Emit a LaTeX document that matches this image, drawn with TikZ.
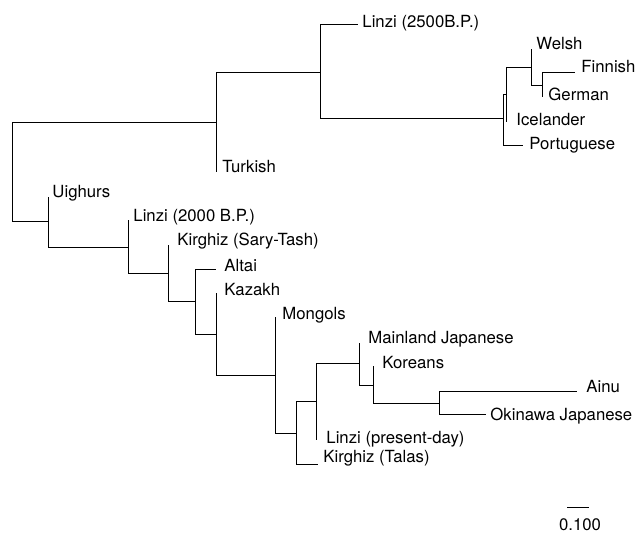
\documentclass[tikz,border=0pt]{standalone}
\usepackage{fontspec}
\setmainfont{TeX Gyre Heros}
\usepackage{tikz}

\begin{document}
\begin{tikzpicture}[x=1bp,y=-1bp,line width=0.9bp,font=\fontsize{16.8}{18}\selectfont,
  lbl/.style={anchor=base west,inner sep=0pt}]
\useasboundingbox (0,0) rectangle (639,533);
% internal nodes
\coordinate (r) at (12,171);
\coordinate (a) at (216,122);
\coordinate (b) at (320,72);
\coordinate (e) at (503,118);
\coordinate (f) at (506,94);
\coordinate (g) at (531,67);
\coordinate (h) at (542,85);
\coordinate (u) at (48,221);
\coordinate (c1) at (128,247);
\coordinate (c2) at (168,273);
\coordinate (c3) at (195,301);
\coordinate (c4) at (216,334);
\coordinate (c5) at (275,375);
\coordinate (c6) at (296,433);
\coordinate (c7) at (316,401);
\coordinate (c8) at (359,363);
\coordinate (c9) at (373,385);
\coordinate (c10) at (439,403);
% tips
\coordinate (tlinziA) at (358,24);
\coordinate (twelsh) at (531,49);
\coordinate (tfinnish) at (575,72);
\coordinate (tgerman) at (542,97);
\coordinate (ticeland) at (506,122);
\coordinate (tportug) at (523,145);
\coordinate (tturkish) at (216,172);
\coordinate (tuighurs) at (48,197);
\coordinate (tlinziB) at (128,220);
\coordinate (tkirgST) at (168,245);
\coordinate (taltai) at (216,269);
\coordinate (tkazakh) at (216,293);
\coordinate (tmongols) at (275,317);
\coordinate (tmainland) at (359,343);
\coordinate (tkoreans) at (373,366);
\coordinate (tainu) at (577,391);
\coordinate (tokinawa) at (486,414);
\coordinate (tlinziC) at (316,440);
\coordinate (tkirgT) at (318,464);
% labels
\node[lbl] (linziA) at (362,28) {Linzi (2500B.P.)};
\node[lbl] (welsh) at (536,50) {Welsh};
\node[lbl] (finnish) at (581,73) {Finnish};
\node[lbl] (german) at (548,101) {German};
\node[lbl] (iceland) at (516,126) {Icelander};
\node[lbl] (portug) at (529,150) {Portuguese};
\node[lbl] (turkish) at (222,173) {Turkish};
\node[lbl] (uighurs) at (52,198) {Uighurs};
\node[lbl] (linziB) at (133,222) {Linzi (2000 B.P.)};
\node[lbl] (kirgST) at (177,246) {Kirghiz (Sary-Tash)};
\node[lbl] (altai) at (224,271) {Altai};
\node[lbl] (kazakh) at (224,295) {Kazakh};
\node[lbl] (mongols) at (282,319) {Mongols};
\node[lbl] (mainland) at (368,343) {Mainland Japanese};
\node[lbl] (koreans) at (382,368) {Koreans};
\node[lbl] (ainu) at (586,392) {Ainu};
\node[lbl] (okinawa) at (490,420) {Okinawa Japanese};
\node[lbl] (linziC) at (326,443) {Linzi (present-day)};
\node[lbl] (kirgT) at (323,462) {Kirghiz (Talas)};
% branches
\foreach \p/\c in {r/a,r/u,a/b,a/tturkish,b/tlinziA,b/e,e/f,e/tportug,f/g,f/ticeland,
  g/twelsh,g/h,h/tfinnish,h/tgerman,u/tuighurs,u/c1,c1/tlinziB,c1/c2,c2/tkirgST,c2/c3,
  c3/taltai,c3/c4,c4/tkazakh,c4/c5,c5/tmongols,c5/c6,c6/c7,c6/tkirgT,c7/c8,c7/tlinziC,
  c8/tmainland,c8/c9,c9/tkoreans,c9/c10,c10/tainu,c10/tokinawa}
  \draw (\p) |- (\c);
% scale bar
\coordinate (s1) at (567,507);
\coordinate (s2) at (589,507);
\draw (s1) -- (s2);
\node[anchor=base,inner sep=0pt] (scale) at (580,530) {0.100};
\end{tikzpicture}
\end{document}
